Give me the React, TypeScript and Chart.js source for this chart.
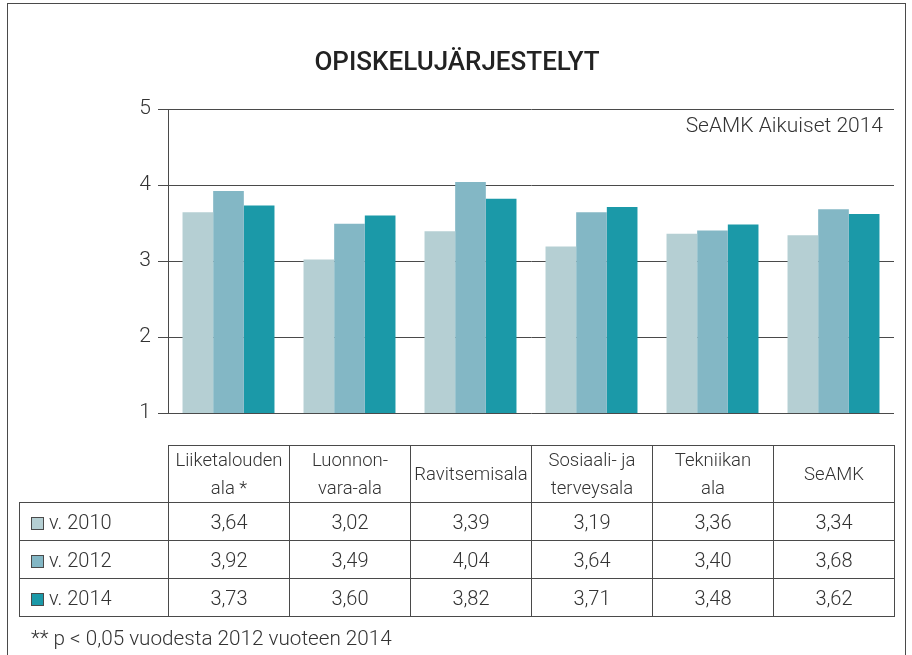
import React, { useEffect, useRef } from "react";
import { Chart, registerables } from "chart.js";

Chart.register(...registerables);

const title = "OPISKELUJÄRJESTELYT";
const subtitle = "SeAMK Aikuiset 2014";
const footnote = "** p < 0,05 vuodesta 2012 vuoteen 2014";
const categories = ["Liiketalouden ala *", "Luonnon-vara-ala", "Ravitsemisala", "Sosiaali- ja terveysala", "Tekniikan ala", "SeAMK"];
const headerLines = [["Liiketalouden", "ala *"], ["Luonnon-", "vara-ala"], ["Ravitsemisala"], ["Sosiaali- ja", "terveysala"], ["Tekniikan", "ala"], ["SeAMK"]];
const seriesLabels = ["v. 2010", "v. 2012", "v. 2014"];
const v2010 = [3.64, 3.02, 3.39, 3.19, 3.36, 3.34];
const v2012 = [3.92, 3.49, 4.04, 3.64, 3.40, 3.68];
const v2014 = [3.73, 3.60, 3.82, 3.71, 3.48, 3.62];
const seriesColors = ["#b5cfd3", "#83b7c5", "#1b99a8"];
const yMin = 1;
const yMax = 5;
const yStep = 1;

const FONT = "Roboto, 'Noto Sans', sans-serif";
const TEXT = "#333333";
const LINE = "#4a4a4a";

const fmt = (v: number) => v.toFixed(2).replace(".", ",");

export default function App() {
  const ref = useRef<HTMLCanvasElement | null>(null);

  useEffect(() => {
    const canvas = ref.current;
    if (!canvas) return;
    const textPlugin = {
      id: "extraText",
      afterDraw(chart: any) {
        const { ctx, chartArea, width } = chart;
        ctx.save();
        ctx.font = `500 26px ${FONT}`;
        ctx.fillStyle = "#222222";
        ctx.textAlign = "center";
        ctx.textBaseline = "middle";
        ctx.fillText(title, width / 2 + 1, 63);
        ctx.font = `300 21px ${FONT}`;
        ctx.fillStyle = TEXT;
        ctx.textAlign = "right";
        ctx.fillText(subtitle, chartArea.right - 11, chartArea.top + 18);
        ctx.restore();
      },
    };
    const values = [v2010, v2012, v2014];
    const chart = new Chart(canvas, {
      type: "bar",
      data: {
        labels: categories,
        datasets: seriesLabels.map((label, i) => ({
          label,
          data: values[i],
          backgroundColor: seriesColors[i],
          borderWidth: 0,
          categoryPercentage: 0.76,
          barPercentage: 1.0,
        })),
      },
      options: {
        responsive: false,
        animation: false,
        devicePixelRatio: 1,
        layout: { padding: { left: 108, right: 18, top: 109, bottom: 242 } },
        plugins: {
          legend: { display: false },
          tooltip: { enabled: false },
          title: { display: false },
        },
        scales: {
          x: { display: false },
          y: {
            min: yMin,
            max: yMax,
            ticks: {
              stepSize: yStep,
              color: TEXT,
              padding: 7,
              font: { family: FONT, size: 21, weight: "300" },
            },
            grid: { color: LINE, lineWidth: 1, tickLength: 10, drawTicks: true },
            border: { display: true, color: LINE, width: 1 },
            afterFit: (scale: any) => {
              scale.width = 60;
            },
          },
        },
      },
      plugins: [textPlugin],
    } as any);
    return () => chart.destroy();
  }, []);

  const values = [v2010, v2012, v2014];
  const cellBorder = `1px solid ${LINE}`;
  const cellBase: React.CSSProperties = {
    border: cellBorder,
    padding: 0,
    textAlign: "center",
    verticalAlign: "middle",
    fontFamily: FONT,
    fontWeight: 300,
    color: TEXT,
  };

  return (
    <div style={{ position: "fixed", left: 0, top: 0, width: 912, height: 655, background: "#ffffff", overflow: "hidden" }}>
      <div style={{ position: "absolute", left: 7, top: 3, width: 899, height: 700, border: `1px solid ${LINE}`, boxSizing: "border-box" }} />
      <canvas ref={ref} width={912} height={655} style={{ position: "absolute", left: 0, top: 0, width: 912, height: 655 }} />
      <table
        style={{
          position: "absolute",
          left: 19,
          top: 445,
          width: 876,
          borderCollapse: "collapse",
          tableLayout: "fixed",
        }}
      >
        <colgroup>
          <col style={{ width: 149 }} />
          {categories.map((c) => (
            <col key={c} style={{ width: 121 }} />
          ))}
        </colgroup>
        <tbody>
          <tr style={{ height: 57 }}>
            <td style={{ ...cellBase, borderTop: "none", borderLeft: "none" }} />
            {headerLines.map((lines, i) => (
              <td key={i} style={{ ...cellBase, fontSize: 18.5, lineHeight: "28px" }}>
                {lines.map((l, j) => (
                  <div key={j} style={{ whiteSpace: "nowrap" }}>{l}</div>
                ))}
              </td>
            ))}
          </tr>
          {seriesLabels.map((s, r) => (
            <tr key={s} style={{ height: 38 }}>
              <td style={{ ...cellBase, textAlign: "left", paddingLeft: 11, fontSize: 20 }}>
                <span
                  style={{
                    display: "inline-block",
                    width: 11,
                    height: 11,
                    border: `1px solid ${LINE}`,
                    background: seriesColors[r],
                    marginRight: 5,
                    verticalAlign: "-1px",
                  }}
                />
                {s}
              </td>
              {values[r].map((v, c) => (
                <td key={c} style={{ ...cellBase, fontSize: 20 }}>
                  {fmt(v)}
                </td>
              ))}
            </tr>
          ))}
        </tbody>
      </table>
      <div
        style={{
          position: "absolute",
          left: 31,
          top: 626,
          fontFamily: FONT,
          fontWeight: 300,
          fontSize: 20.7,
          lineHeight: "24px",
          color: TEXT,
          whiteSpace: "nowrap",
        }}
      >
        {footnote}
      </div>
    </div>
  );
}
